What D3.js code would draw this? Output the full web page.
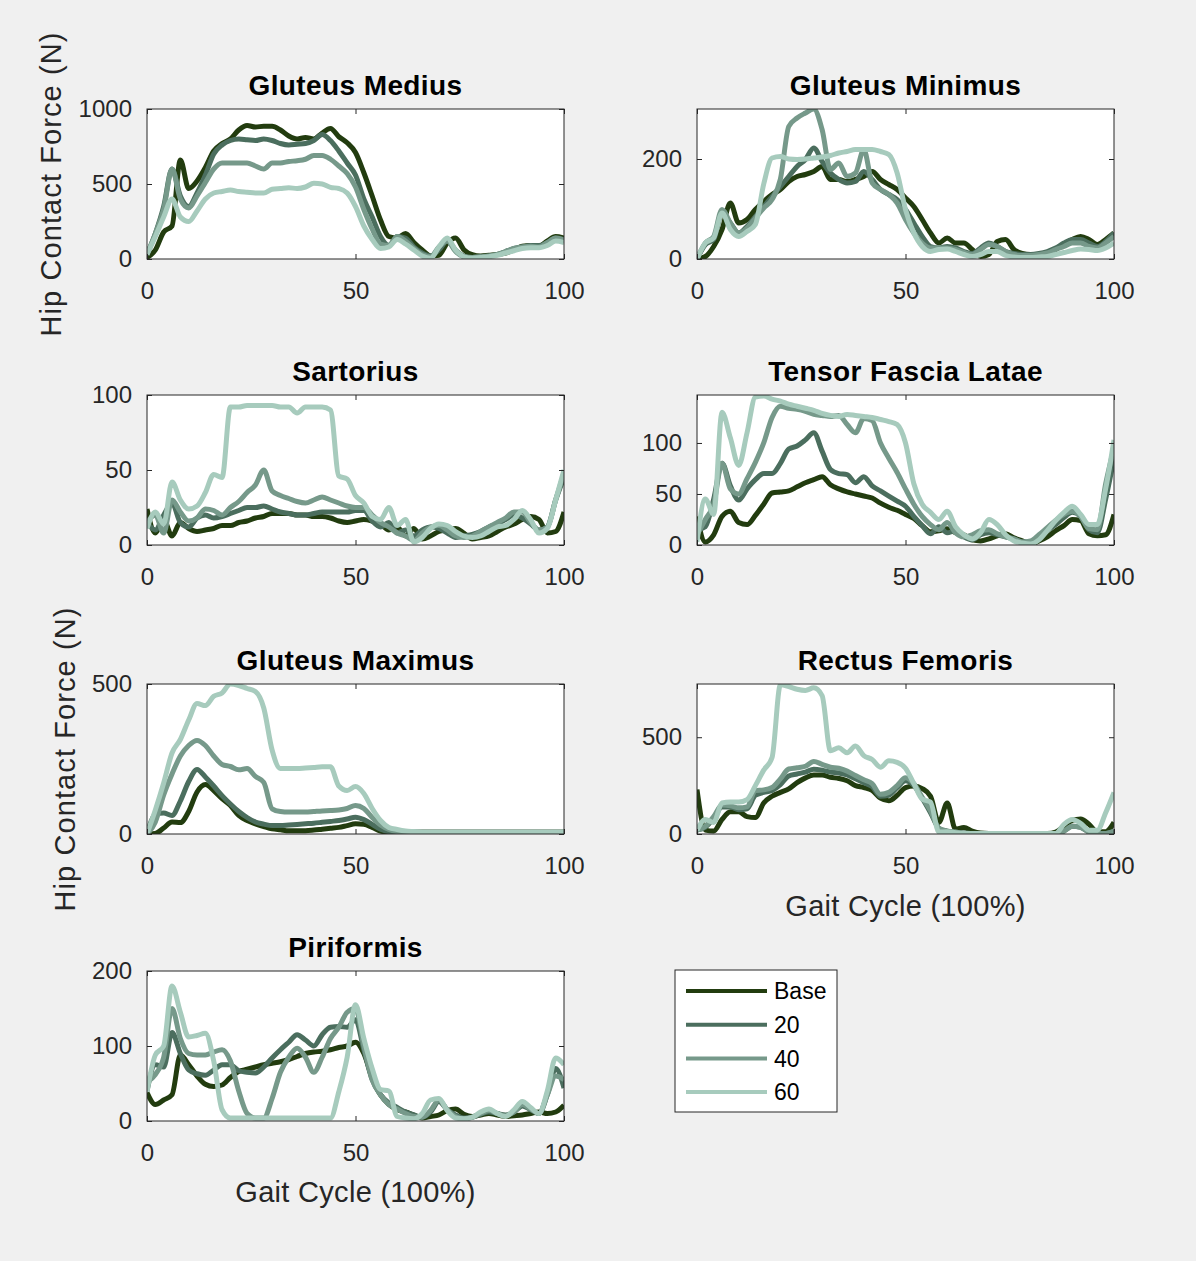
<!DOCTYPE html>
<html>
<head>
<meta charset="utf-8">
<script src="https://cdn.jsdelivr.net/npm/d3@7"></script>
<style>
  body { margin: 0; background: #f0f0f0; }
  svg { display: block; font-family: "Liberation Sans", Arial, Helvetica, sans-serif; }
</style>
</head>
<body>
<div id="chart"></div>
<script>
// gait cycle samples (%)
var gait = [0,2,4,6,8,10,12,14,16,18,20,22,24,26,28,30,32,34,36,38,40,42,44,46,48,50,
            52,54,56,58,60,62,64,66,68,70,72,74,76,78,80,82,84,86,88,90,92,94,96,98,100];

var seriesNames = ["Base", "20", "40", "60"];
var xTicks = [0, 50, 100];

// Gluteus Medius
var medBase = [10,60,180,220,660,470,520,610,720,770,800,860,890,880,885,885,860,820,800,810,800,840,870,815,775,710,575,420,260,150,140,170,110,60,20,25,107,140,62,29,20,25,30,40,60,85,90,85,120,150,140];
var med20 = [30,170,350,600,420,350,440,560,700,760,790,800,795,790,800,790,770,760,765,770,790,830,790,720,640,560,400,280,150,90,150,140,80,40,20,60,120,60,20,10,15,20,30,50,70,80,90,90,110,140,130];
var med40 = [30,170,330,600,400,340,420,510,600,640,640,640,640,620,600,640,640,650,655,665,690,690,665,620,570,480,330,200,100,90,150,120,70,30,15,80,120,50,15,10,15,20,30,50,70,80,85,80,110,140,125];
var med60 = [30,150,280,400,280,250,320,400,440,450,460,450,445,440,440,465,470,475,470,480,505,500,478,470,440,350,220,130,70,80,130,100,60,20,5,80,140,60,15,5,10,15,25,40,55,70,75,75,90,120,110];

// Gluteus Minimus
var minBase = [0,5,25,59,112,72,79,99,115,129,139,155,165,169,175,185,159,159,155,159,165,175,159,149,139,122,105,79,52,32,42,32,32,19,5,9,35,39,19,11,9,9,11,19,29,39,45,39,29,39,52];
var min20 = [0,29,39,92,72,52,65,85,105,125,145,165,185,199,222,195,172,159,152,155,175,159,139,129,119,99,72,45,25,22,25,22,15,11,22,32,25,15,11,9,9,11,15,22,32,39,39,32,25,35,52];
var min40 = [0,32,45,99,72,52,62,82,102,119,160,265,282,292,300,259,179,192,165,172,219,152,139,129,112,79,52,32,22,22,22,19,13,9,19,29,25,15,9,7,7,9,12,19,25,32,32,25,22,32,45];
var min60 = [0,32,42,92,59,45,55,69,150,202,205,200,199,200,202,204,207,212,215,219,219,219,215,209,172,99,52,25,15,19,20,15,9,5,9,15,15,7,4,3,3,4,5,9,13,17,20,19,17,22,32];

// Sartorius
var sarBase = [24,8,17,6,15,11,9,10,11,13,13,15,16,18,19,21,21,21,20,20,19,19,18,16,15,16,17,16,14,10,12,6,11,4,6,9,10,11,8,4,5,6,9,12,14,17,19,17,8,9,22];
var sar20 = [15,10,20,28,15,12,18,20,18,19,21,23,25,25,26,24,22,21,20,20,21,22,22,22,22,23,23,16,12,15,8,10,6,10,12,11,8,5,6,7,9,12,14,17,20,18,14,10,12,30,45];
var sar40 = [15,20,8,30,22,16,18,24,23,20,25,29,35,40,50,36,33,31,29,28,30,32,30,28,26,25,25,20,15,12,8,6,3,8,12,13,10,6,5,6,9,12,15,18,22,22,15,10,12,30,48];
var sar60 = [11,22,14,42,30,24,26,35,47,45,92,92,93,93,93,93,92,92,88,92,92,92,90,46,44,33,28,19,17,25,13,17,2,5,11,14,13,9,6,5,6,9,12,13,17,23,17,8,11,30,50];

// Tensor Fascia Latae
var tflBase = [28,3,10,28,33,22,20,29,40,51,52,53,57,61,64,67,59,55,52,50,48,46,41,37,34,30,26,19,13,14,16,12,10,5,4,6,9,11,7,4,1,4,8,14,19,25,24,11,9,10,30];
var tfl20 = [15,18,45,80,58,44,55,64,70,70,80,94,97,103,110,92,74,70,69,61,67,58,53,48,43,38,28,19,11,18,12,14,8,5,10,12,10,8,6,3,3,8,14,20,27,32,28,15,12,45,85];
var tfl40 = [10,25,40,80,55,50,65,81,100,125,136,134,133,131,128,127,126,127,118,110,124,122,100,85,71,55,40,28,20,15,22,12,8,10,14,15,11,8,6,3,4,10,17,24,30,33,28,16,15,60,95];
var tfl60 = [3,45,30,130,105,78,110,145,146,143,141,138,136,134,132,129,127,126,128,127,126,125,123,121,118,100,60,40,32,25,33,18,10,6,12,25,20,10,4,2,1,5,14,24,32,38,30,20,20,55,103];

// Gluteus Maximus
var maxBase = [0,2,20,40,38,75,140,165,145,118,95,62,45,34,25,17,14,11,11,11,13,16,19,22,28,34,32,22,10,5,
               6,6,6,6,6,6,6,6,6,6,6,6,6,6,6,6,6,6,6,6,6];
var max20 = [0,65,70,62,110,175,215,190,160,128,100,75,55,40,33,28,28,30,32,34,36,39,42,45,50,56,48,32,16,8,
             6,6,6,6,6,6,6,6,6,6,6,6,6,6,6,6,6,6,6,6,6];
var max40 = [0,40,130,200,260,295,312,295,260,232,225,214,218,192,172,84,75,73,73,73,75,77,78,80,85,95,85,55,30,15,8,
             6,6,6,6,6,6,6,6,6,6,6,6,6,6,6,6,6,6,6,6];
var max60 = [0,80,170,270,315,380,435,428,459,470,500,495,485,475,420,280,218,218,218,220,222,224,224,160,145,158,135,85,45,22,15,10,8,
             6,6,6,6,6,6,6,6,6,6,6,6,6,6,6,6,6,6];

// Rectus Femoris
var recBase = [230,20,15,75,115,115,90,85,160,195,215,233,265,290,305,305,293,287,275,250,240,225,185,172,200,240,248,235,195,60,160,25,34,15,5,3,3,3,3,3,3,3,3,10,40,70,78,50,12,12,60];
var rec20 = [20,35,80,140,140,125,130,200,215,225,255,300,310,320,335,330,320,315,305,285,265,245,195,200,240,275,250,185,110,30,15,10,5,3,2,2,2,2,2,2,2,2,2,2,15,40,35,10,3,3,15];
var rec40 = [20,40,90,150,146,135,140,225,228,240,285,336,342,350,375,360,345,340,325,302,280,260,205,215,250,290,260,190,120,30,15,10,5,3,2,2,2,2,2,2,2,2,2,2,15,40,35,10,3,3,15];
var rec60 = [20,75,60,160,165,165,178,250,330,395,771,762,748,742,755,715,430,445,420,455,405,385,345,378,370,340,260,180,165,10,12,6,3,3,3,3,3,3,3,3,3,3,3,3,50,75,55,20,20,110,215];

// Piriformis
var pirBase = [38,22,28,35,88,75,60,49,46,48,58,66,69,72,75,77,79,82,86,90,92,93,95,98,100,105,90,58,35,22,15,12,8,4,6,8,14,16,9,6,8,10,8,6,7,8,10,12,10,12,21];
var pir20 = [40,75,72,118,90,68,63,61,68,75,75,67,65,64,72,84,95,105,115,108,100,115,125,126,125,135,95,55,35,24,18,12,8,5,12,26,15,8,4,5,9,12,10,8,12,20,15,10,35,70,44];
var pir40 = [52,62,85,150,110,90,88,88,92,95,80,40,10,4,4,30,65,85,97,85,65,85,110,125,145,150,100,55,35,22,16,10,6,5,14,28,15,6,3,5,10,14,10,7,12,22,16,10,35,60,55];
var pir60 = [39,88,100,180,145,112,114,117,80,15,4,4,4,4,4,4,4,4,4,4,4,4,4,39,85,155,110,70,42,40,6,4,3,10,28,30,14,4,3,5,12,16,10,6,15,26,18,10,40,84,75];

var titles = ["Gluteus Medius", "Gluteus Minimus", "Sartorius", "Tensor Fascia Latae",
              "Gluteus Maximus", "Rectus Femoris", "Piriformis"];
var yMax = [1000, 300, 100, 147, 500, 775, 200];
var yTicks = [[0, 500, 1000], [0, 200], [0, 50, 100], [0, 50, 100], [0, 500], [0, 500], [0, 100, 200]];
var muscles = [
    [medBase, med20, med40, med60],
    [minBase, min20, min40, min60],
    [sarBase, sar20, sar40, sar60],
    [tflBase, tfl20, tfl40, tfl60],
    [maxBase, max20, max40, max60],
    [recBase, rec20, rec40, rec60],
    [pirBase, pir20, pir40, pir60]
];

var colors = ["#223c0f", "#4b6e5e", "#76998a", "#a7cbbd"];
var axisColor = "#262626";

var width = 1196,
    height = 1261;

var colX = [147, 697],
    rowY = [109, 395, 684, 971],
    pw = 417,
    ph = 150;

var svg = d3.select("#chart").append("svg")
    .attr("width", width)
    .attr("height", height);

svg.append("rect")
    .attr("width", width)
    .attr("height", height)
    .attr("fill", "#f0f0f0");

var x = d3.scaleLinear().domain([0, 100]).range([0, pw]);
var fmt = d3.format("d");

muscles.forEach(function(series, i) {
    var g = svg.append("g")
        .attr("transform", "translate(" + colX[i % 2] + "," + rowY[Math.floor(i / 2)] + ")");

    var y = d3.scaleLinear().domain([0, yMax[i]]).range([ph, 0]);

    g.append("rect")
        .attr("width", pw)
        .attr("height", ph)
        .attr("fill", "#fff");

    g.append("clipPath")
        .attr("id", "clip" + i)
        .append("rect")
        .attr("width", pw)
        .attr("height", ph);

    var line = d3.line()
        .x(function(d, j) { return x(gait[j]); })
        .y(function(d) { return y(d); })
        .curve(d3.curveMonotoneX);

    g.append("g")
        .attr("clip-path", "url(#clip" + i + ")")
        .selectAll("path")
        .data(series)
        .join("path")
        .attr("d", line)
        .attr("fill", "none")
        .attr("stroke", function(d, k) { return colors[k]; })
        .attr("stroke-width", 5)
        .attr("stroke-linejoin", "round");

    // ticks point inwards, labels only left and bottom
    var axes = [
        [d3.axisBottom(x).tickValues(xTicks).tickFormat(fmt).tickPadding(23), "translate(0," + ph + ")"],
        [d3.axisTop(x).tickValues(xTicks).tickFormat(""), null],
        [d3.axisLeft(y).tickValues(yTicks[i]).tickFormat(fmt).tickPadding(15), null],
        [d3.axisRight(y).tickValues(yTicks[i]).tickFormat(""), "translate(" + pw + ",0)"]
    ];
    axes.forEach(function(a) {
        var ax = g.append("g")
            .attr("transform", a[1])
            .call(a[0].tickSizeInner(-5).tickSizeOuter(0))
            .attr("font-family", null)
            .attr("font-size", 24)
            .attr("color", axisColor);
        ax.select(".domain").remove();
    });

    g.append("rect")
        .attr("width", pw)
        .attr("height", ph)
        .attr("fill", "none")
        .attr("stroke", axisColor)
        .attr("stroke-width", 1);

    g.append("text")
        .attr("x", pw / 2)
        .attr("y", -14)
        .attr("text-anchor", "middle")
        .attr("font-size", 28)
        .attr("font-weight", "bold")
        .attr("letter-spacing", 0.4)
        .attr("fill", "#000")
        .text(titles[i]);
});

// axis titles
[[61, rowY[0] + ph / 2], [75, rowY[2] + ph / 2]].forEach(function(p) {
    svg.append("text")
        .attr("transform", "translate(" + p[0] + "," + p[1] + ") rotate(-90)")
        .attr("text-anchor", "middle")
        .attr("font-size", 29)
        .attr("letter-spacing", 1.1)
        .attr("fill", axisColor)
        .text("Hip Contact Force (N)");
});

[[colX[1] + pw / 2, rowY[2] + ph + 82], [colX[0] + pw / 2, rowY[3] + ph + 81]].forEach(function(p) {
    svg.append("text")
        .attr("x", p[0])
        .attr("y", p[1])
        .attr("text-anchor", "middle")
        .attr("font-size", 29)
        .attr("letter-spacing", 0.3)
        .attr("fill", axisColor)
        .text("Gait Cycle (100%)");
});

// legend
var legend = svg.append("g").attr("transform", "translate(675,970)");
legend.append("rect")
    .attr("width", 162)
    .attr("height", 142)
    .attr("fill", "#fff")
    .attr("stroke", axisColor);

var items = legend.selectAll(".item")
    .data(seriesNames)
    .join("g")
    .attr("class", "item")
    .attr("transform", function(d, k) { return "translate(0," + (21 + k * 33.7) + ")"; });

items.append("line")
    .attr("x1", 11)
    .attr("x2", 92)
    .attr("stroke", function(d, k) { return colors[k]; })
    .attr("stroke-width", 4);

items.append("text")
    .attr("x", 99)
    .attr("dy", "0.36em")
    .attr("font-size", 23)
    .attr("fill", "#000")
    .text(function(d) { return d; });
</script>
</body>
</html>
